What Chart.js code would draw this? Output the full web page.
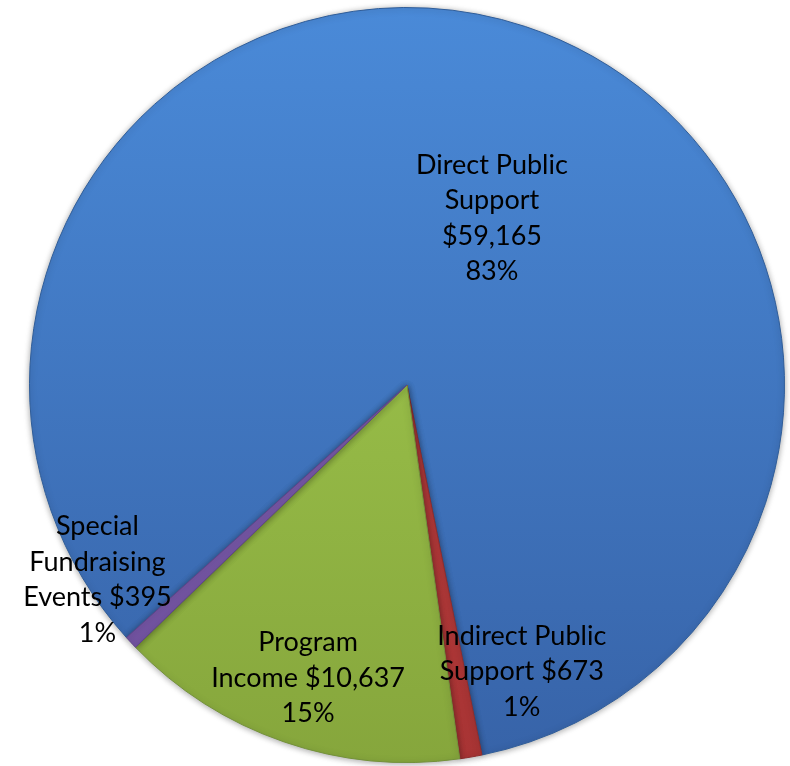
<!DOCTYPE html>
<html>
<head>
<meta charset="utf-8">
<script src="https://cdn.jsdelivr.net/npm/chart.js@4.4.1/dist/chart.umd.min.js"></script>
<style>
  html, body { margin: 0; padding: 0; background: #ffffff; }
  #wrap { width: 790px; height: 766px; position: relative; }
</style>
</head>
<body>
<div id="wrap"><canvas id="chart"></canvas></div>
<script>
// data
const categories = ['Direct Public Support', 'Indirect Public Support', 'Program Income', 'Special Fundraising Events']
const amounts = [59165, 673, 10637, 395]

// how each label is wrapped
const nameLines = [
  ['Direct Public', 'Support'],
  ['Indirect Public', 'Support'],
  ['Program', 'Income'],
  ['Special', 'Fundraising', 'Events']
]
const amountOnOwnLine = [true, false, false, false]

// label centres, as fractions of the radius from the pie centre
const labelOffsets = [
  { fx: 0.225, fy: -0.442 },
  { fx: 0.304, fy: 0.759 },
  { fx: -0.262, fy: 0.776 },
  { fx: -0.82, fy: 0.516 }
]

// top / bottom colours of each slice
const sliceColors = [
  ['#4a8ad8', '#3763a8'],
  ['#c04242', '#a83434'],
  ['#a6d052', '#86a63c'],
  ['#8464b4', '#6e4f9c']
]
const edgeColors = ['#2f5d99', '#8e2c2c', '#73913a', '#5d4388']

const total = amounts.reduce((a, b) => a + b, 0)

function labelFor(i) {
  const money = '$' + amounts[i].toLocaleString('en-US')
  const pct = Math.round(amounts[i] / total * 100) + '%'
  const lines = nameLines[i].slice()
  if (amountOnOwnLine[i]) lines.push(money)
  else lines[lines.length - 1] += ' ' + money
  lines.push(pct)
  return lines
}

function sliceGradient(context) {
  const chart = context.chart
  const area = chart.chartArea
  const i = context.dataIndex
  if (!area) return sliceColors[i][0]
  const g = chart.ctx.createLinearGradient(0, area.top, 0, area.bottom)
  g.addColorStop(0, sliceColors[i][0])
  g.addColorStop(1, sliceColors[i][1])
  return g
}

// soft shadow round the pie
const pieShadow = {
  id: 'pieShadow',
  beforeDatasetsDraw(chart) {
    const ctx = chart.ctx
    ctx.save()
    ctx.shadowColor = 'rgba(0, 0, 0, 0.35)'
    ctx.shadowBlur = 6
    ctx.shadowOffsetX = 0
    ctx.shadowOffsetY = 1
  },
  afterDatasetsDraw(chart) {
    chart.ctx.restore()
  }
}

// slice labels
const sliceLabels = {
  id: 'sliceLabels',
  afterDatasetsDraw(chart) {
    const ctx = chart.ctx
    const arc = chart.getDatasetMeta(0).data[0]
    if (!arc) return
    const cx = arc.x
    const cy = arc.y
    const r = arc.outerRadius
    const lineHeight = 35.5
    ctx.save()
    ctx.font = '27px Lato, "DejaVu Sans", sans-serif'
    ctx.fillStyle = '#000000'
    ctx.textAlign = 'center'
    ctx.textBaseline = 'middle'
    categories.forEach((c, i) => {
      const lines = labelFor(i)
      const x = cx + labelOffsets[i].fx * r
      const y = cy + labelOffsets[i].fy * r
      const top = y - (lines.length - 1) * lineHeight / 2
      lines.forEach((line, k) => ctx.fillText(line, x, top + k * lineHeight))
    })
    ctx.restore()
  }
}

new Chart(document.getElementById('chart'), {
  type: 'pie',
  data: {
    labels: categories,
    datasets: [{
      data: amounts,
      backgroundColor: sliceGradient,
      borderColor: edgeColors,
      borderWidth: 1
    }]
  },
  options: {
    responsive: true,
    maintainAspectRatio: false,
    animation: false,
    rotation: 228,
    layout: { padding: { left: 29, right: 5, top: 7, bottom: 3 } },
    plugins: {
      legend: { display: false },
      tooltip: { enabled: false }
    }
  },
  plugins: [pieShadow, sliceLabels]
})
</script>
</body>
</html>
